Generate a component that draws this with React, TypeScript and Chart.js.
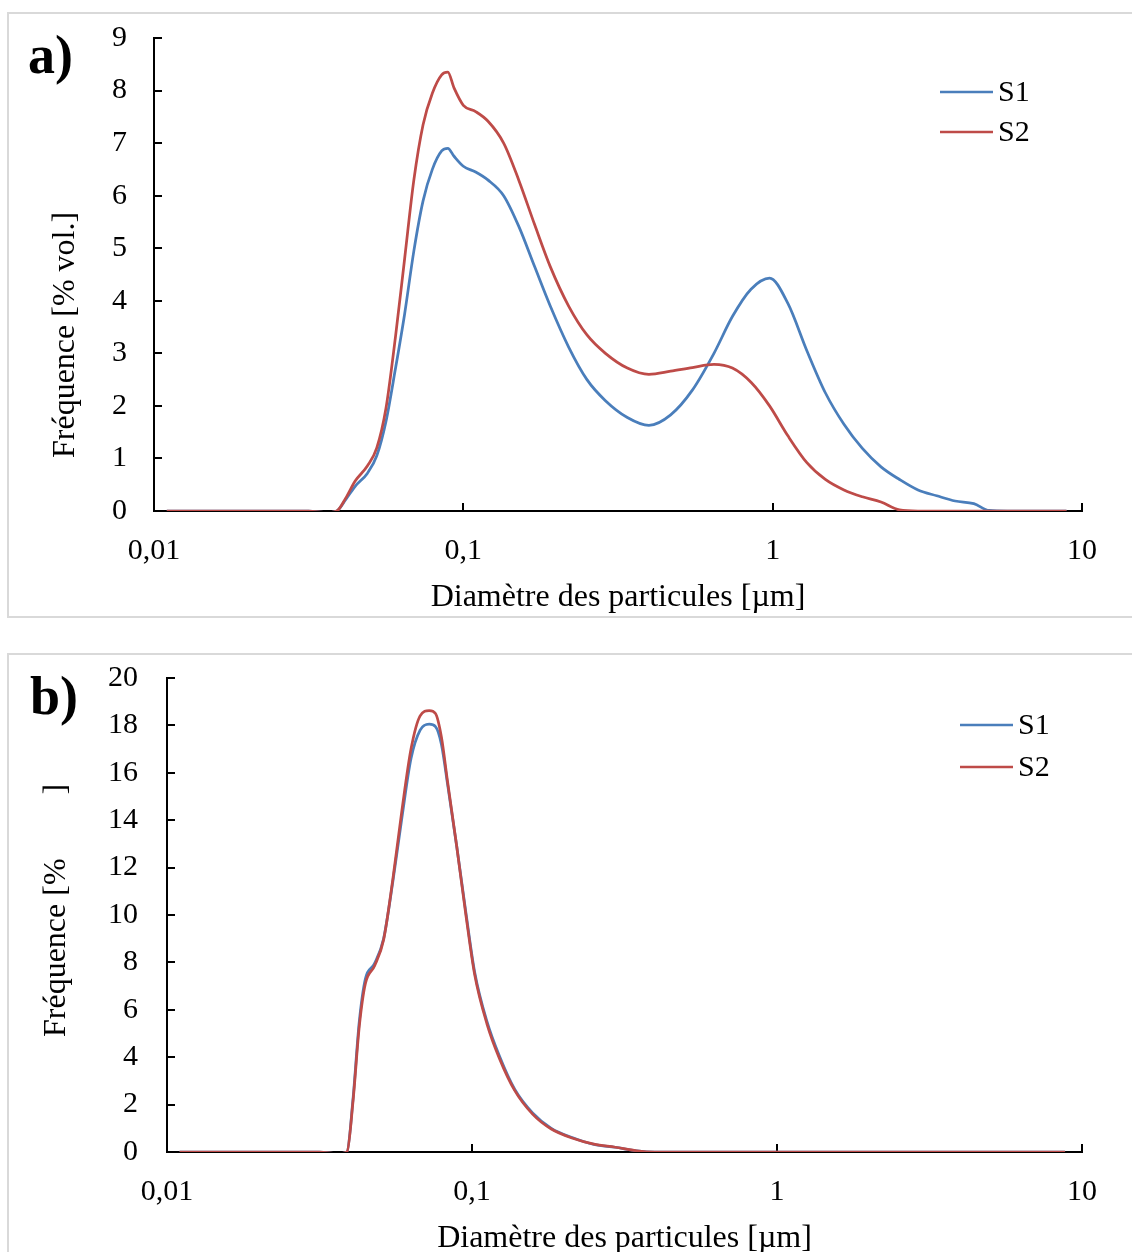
import React, { useEffect, useRef } from "react";
import { Chart, registerables } from "chart.js";

Chart.register(...registerables);

const FONT = '"Liberation Serif", "Times New Roman", Times, serif';

// ---------- shared ----------
const seriesLabels = ["S1", "S2"];
const seriesColors = ["#4A7EBB", "#BE4B48"];
const xTickValues = [0.01, 0.1, 1, 10];
const xTickLabels = ["0,01", "0,1", "1", "10"];
const xTitle = "Diamètre des particules [µm]";

// ---------- panel a ----------
const panelA = "a)";
const yTitleA = "Fréquence [% vol.]";
const yMaxA = 9;
const yStepA = 1;
const diametersA = [
  0.011, 0.02, 0.0316, 0.0363, 0.039, 0.0417, 0.0447, 0.049, 0.0525, 0.0562,
  0.0603, 0.0646, 0.0692, 0.0741, 0.0794, 0.0851, 0.0891, 0.0933, 0.1, 0.1096,
  0.12, 0.135, 0.151, 0.17, 0.191, 0.219, 0.251, 0.288, 0.339, 0.398,
  0.468, 0.55, 0.646, 0.741, 0.851, 0.977, 1.12, 1.29, 1.48, 1.7,
  1.95, 2.24, 2.57, 2.95, 3.39, 3.89, 4.47, 5.01, 5.75, 7.08, 8.91,
];
const s1A = [
  0, 0, 0, -0.03, 0, 0.22, 0.47, 0.72, 1.05, 1.7,
  2.7, 3.75, 4.95, 5.9, 6.5, 6.85, 6.9, 6.75, 6.56, 6.45,
  6.3, 6.0, 5.42, 4.65, 3.9, 3.12, 2.5, 2.1, 1.78, 1.63,
  1.83, 2.3, 3.0, 3.7, 4.22, 4.43, 3.95, 3.05, 2.25, 1.65,
  1.19, 0.84, 0.6, 0.4, 0.29, 0.19, 0.14, 0.01, 0, 0, 0,
];
const s2A = [
  0, 0, 0, -0.03, 0, 0.25, 0.57, 0.86, 1.2, 1.95,
  3.3, 4.8, 6.3, 7.35, 7.95, 8.3, 8.35, 8.05, 7.72, 7.6,
  7.42, 7.0, 6.3, 5.45, 4.65, 3.9, 3.35, 3.0, 2.72, 2.6,
  2.66, 2.73, 2.79, 2.72, 2.45, 2.0, 1.43, 0.92, 0.6, 0.4,
  0.27, 0.17, 0.02, 0, 0, 0, 0, 0, 0, 0, 0,
];

// ---------- panel b ----------
const panelB = "b)";
const yTitleB = "Fréquence [%        ]";
const yMaxB = 20;
const yStepB = 2;
const diametersB = [
  0.011, 0.02, 0.0316, 0.0363, 0.0389, 0.0407, 0.0427, 0.0447, 0.0479, 0.0513,
  0.055, 0.0589, 0.0631, 0.0676, 0.0724, 0.0759, 0.0794, 0.0832, 0.0891, 0.0955,
  0.102, 0.112, 0.123, 0.138, 0.158, 0.182, 0.214, 0.251, 0.295, 0.347,
  0.398, 0.631, 1, 3.16, 8.8,
];
const s1B = [
  0, 0, 0, -0.07, 0, 2.2, 5.5, 7.3, 7.95, 9.0,
  11.4, 14.1, 16.6, 17.8, 18.05, 17.95, 17.2, 15.5, 12.9, 10.1,
  7.6, 5.5, 4.05, 2.65, 1.65, 1.0, 0.6, 0.32, 0.2, 0.05,
  0, 0, 0, 0, 0,
];
const s2B = [
  0, 0, 0, -0.07, 0, 2.1, 5.3, 7.1, 7.85, 8.95,
  11.5, 14.4, 17.0, 18.4, 18.62, 18.5, 17.5, 15.6, 12.9, 10.0,
  7.5, 5.4, 3.95, 2.6, 1.6, 0.97, 0.58, 0.33, 0.2, 0.05,
  0, 0, 0, 0, 0,
];

type Layout = {
  width: number;
  height: number;
  yWidth: number;
  xHeight: number;
  top: number;
  right: number;
  yTickPad: number;
  xTickPad: number;
  xTitlePad: number;
  panelX: number;
  panelY: number;
  yTitleX: number;
  yTitleY: number;
  legendX: number;
  legendY: number;
  legendGap: number;
};

function makeDecor(id: string, panel: string, yTitle: string, L: Layout) {
  return {
    id,
    afterDraw(chart: any) {
      const ctx = chart.ctx as CanvasRenderingContext2D;
      ctx.save();
      ctx.fillStyle = "#000";
      ctx.textAlign = "left";
      ctx.textBaseline = "alphabetic";
      ctx.font = `bold 54px ${FONT}`;
      ctx.fillText(panel, L.panelX, L.panelY);

      ctx.save();
      ctx.translate(L.yTitleX, L.yTitleY);
      ctx.rotate(-Math.PI / 2);
      ctx.font = `32px ${FONT}`;
      ctx.textBaseline = "middle";
      ctx.textAlign = "left";
      ctx.fillText(yTitle, 0, 0);
      ctx.restore();

      chart.data.datasets.forEach((ds: any, i: number) => {
        const y = L.legendY + i * L.legendGap;
        ctx.strokeStyle = ds.borderColor;
        ctx.lineWidth = 2.5;
        ctx.beginPath();
        ctx.moveTo(L.legendX, y);
        ctx.lineTo(L.legendX + 53, y);
        ctx.stroke();
        ctx.fillStyle = "#000";
        ctx.font = `30px ${FONT}`;
        ctx.textBaseline = "middle";
        ctx.textAlign = "left";
        ctx.fillText(ds.label, L.legendX + 58, y + 1);
      });
      ctx.restore();
    },
  };
}

function buildChart(
  canvas: HTMLCanvasElement,
  diam: number[],
  s1: number[],
  s2: number[],
  yMax: number,
  yStep: number,
  panel: string,
  yTitle: string,
  L: Layout,
  id: string
) {
  const series = [s1, s2];
  const datasets = series.map((vals, i) => ({
    label: seriesLabels[i],
    data: diam.map((d, k) => ({ x: d, y: vals[k] })),
    borderColor: seriesColors[i],
    backgroundColor: seriesColors[i],
    borderWidth: 2.75,
    pointRadius: 0,
    fill: false,
    cubicInterpolationMode: "monotone" as const,
    order: i === 1 ? 0 : 1,
  }));

  return new Chart(canvas, {
    type: "line",
    data: { datasets },
    plugins: [makeDecor(id, panel, yTitle, L)],
    options: {
      animation: false,
      responsive: false,
      devicePixelRatio: 1,
      layout: { padding: { top: L.top, right: L.right, left: 0, bottom: 0 } },
      plugins: {
        legend: { display: false },
        title: { display: false },
        tooltip: { enabled: false },
      },
      scales: {
        x: {
          type: "logarithmic",
          position: "bottom",
          min: 0.01,
          max: 10,
          afterBuildTicks: (scale: any) => {
            scale.ticks = xTickValues.map((v) => ({ value: v, major: true }));
          },
          afterFit: (scale: any) => {
            scale.height = L.xHeight;
            scale.paddingLeft = 0;
            scale.paddingRight = 0;
          },
          ticks: {
            autoSkip: false,
            maxRotation: 0,
            padding: L.xTickPad,
            color: "#000",
            font: { family: FONT, size: 30 },
            callback: (v: any) => {
              const idx = xTickValues.findIndex((t) => Math.abs(t - Number(v)) < 1e-9);
              return idx >= 0 ? xTickLabels[idx] : "";
            },
          },
          grid: {
            drawOnChartArea: false,
            drawTicks: true,
            tickLength: -8,
            color: "#000",
            lineWidth: 2,
          },
          border: { display: true, color: "#000", width: 2 },
          title: {
            display: true,
            text: xTitle,
            color: "#000",
            font: { family: FONT, size: 32, lineHeight: 1 },
            padding: { top: 0, bottom: L.xTitlePad },
          },
        },
        y: {
          type: "linear",
          position: "left",
          min: 0,
          max: yMax,
          afterFit: (scale: any) => {
            scale.width = L.yWidth;
            scale.paddingTop = 0;
            scale.paddingBottom = 0;
          },
          ticks: {
            stepSize: yStep,
            padding: L.yTickPad,
            color: "#000",
            font: { family: FONT, size: 30 },
          },
          grid: {
            drawOnChartArea: false,
            drawTicks: true,
            tickLength: -8,
            color: "#000",
            lineWidth: 2,
          },
          border: { display: true, color: "#000", width: 2 },
          title: { display: false },
        },
      },
    } as any,
  });
}

const layoutA: Layout = {
  width: 1124,
  height: 604,
  yWidth: 146,
  xHeight: 106,
  top: 25,
  right: 50,
  yTickPad: 35,
  xTickPad: 30,
  xTitlePad: 3,
  panelX: 20,
  panelY: 60,
  yTitleX: 58,
  yTitleY: 445,
  legendX: 932,
  legendY: 79,
  legendGap: 40,
};

const layoutB: Layout = {
  width: 1124,
  height: 599,
  yWidth: 159,
  xHeight: 100,
  top: 25,
  right: 50,
  yTickPad: 37,
  xTickPad: 30,
  xTitlePad: -3,
  panelX: 22,
  panelY: 61,
  yTitleX: 49,
  yTitleY: 384,
  legendX: 952,
  legendY: 72,
  legendGap: 42,
};

export default function App() {
  const refA = useRef<HTMLCanvasElement | null>(null);
  const refB = useRef<HTMLCanvasElement | null>(null);

  useEffect(() => {
    if (!refA.current || !refB.current) return;
    const a = buildChart(refA.current, diametersA, s1A, s2A, yMaxA, yStepA, panelA, yTitleA, layoutA, "decorA");
    const b = buildChart(refB.current, diametersB, s1B, s2B, yMaxB, yStepB, panelB, yTitleB, layoutB, "decorB");
    return () => {
      a.destroy();
      b.destroy();
    };
  }, []);

  const boxStyle = (top: number, height: number): React.CSSProperties => ({
    position: "absolute",
    left: 7,
    top,
    width: 1140,
    height,
    boxSizing: "border-box",
    border: "2px solid #d9d9d9",
    background: "#fff",
  });

  return (
    <div
      style={{
        position: "fixed",
        left: 0,
        top: 0,
        width: 1132,
        height: 1252,
        overflow: "hidden",
        background: "#fff",
      }}
    >
      <div style={boxStyle(12, 606)} />
      <div style={boxStyle(653, 640)} />
      <canvas
        ref={refA}
        width={layoutA.width}
        height={layoutA.height}
        style={{ position: "absolute", left: 8, top: 13, width: layoutA.width, height: layoutA.height }}
      />
      <canvas
        ref={refB}
        width={layoutB.width}
        height={layoutB.height}
        style={{ position: "absolute", left: 8, top: 653, width: layoutB.width, height: layoutB.height }}
      />
    </div>
  );
}
